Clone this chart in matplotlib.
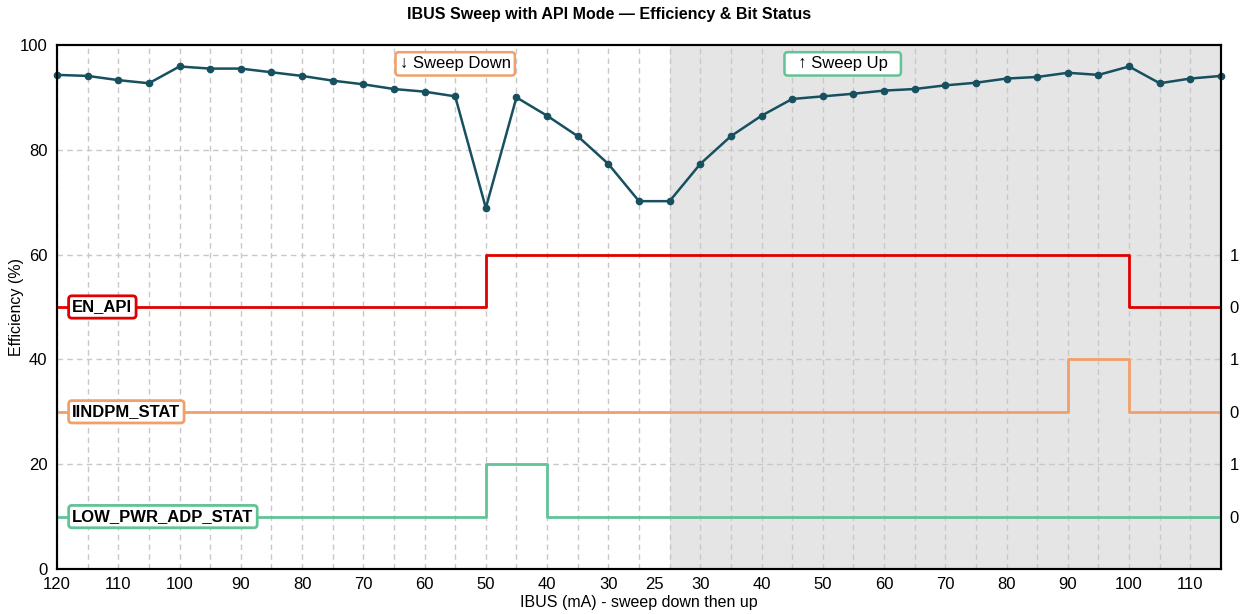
import matplotlib.pyplot as plt
import numpy as np

plt.rcParams['font.family'] = ['Liberation Sans', 'DejaVu Sans']

# IBUS setpoints (mA): sweep down 120 -> 25, then back up 25 -> 115
ibus_down = [120, 115, 110, 105, 100, 95, 90, 85, 80, 75, 70, 65, 60, 55, 50, 45, 40, 35, 30, 25]
ibus_up = [25, 30, 35, 40, 45, 50, 55, 60, 65, 70, 75, 80, 85, 90, 95, 100, 105, 110, 115]
ibus = ibus_down + ibus_up

efficiency = [94.3, 94.1, 93.3, 92.7, 95.9, 95.5, 95.5, 94.8, 94.1, 93.2, 92.5, 91.6, 91.1, 90.2,
              68.9, 90.0, 86.5, 82.6, 77.3, 70.2,
              70.2, 77.3, 82.6, 86.5, 89.7, 90.2, 90.7, 91.3, 91.6, 92.3, 92.8, 93.6, 93.9,
              94.7, 94.3, 95.9, 92.7, 93.6, 94.1]

en_api = [0, 0, 0, 0, 0, 0, 0, 0, 0, 0, 0, 0, 0, 0, 1, 1, 1, 1, 1, 1,
          1, 1, 1, 1, 1, 1, 1, 1, 1, 1, 1, 1, 1, 1, 1, 0, 0, 0, 0]
iindpm_stat = [0, 0, 0, 0, 0, 0, 0, 0, 0, 0, 0, 0, 0, 0, 0, 0, 0, 0, 0, 0,
               0, 0, 0, 0, 0, 0, 0, 0, 0, 0, 0, 0, 0, 1, 1, 0, 0, 0, 0]
low_pwr_adp_stat = [0, 0, 0, 0, 0, 0, 0, 0, 0, 0, 0, 0, 0, 0, 1, 1, 0, 0, 0, 0,
                    0, 0, 0, 0, 0, 0, 0, 0, 0, 0, 0, 0, 0, 0, 0, 0, 0, 0, 0]

bit_names = ['EN_API', 'IINDPM_STAT', 'LOW_PWR_ADP_STAT']
bit_data = [en_api, iindpm_stat, low_pwr_adp_stat]
bit_base = [50, 30, 10]  # where each bit trace sits on the efficiency scale (0 -> base, 1 -> base+10)
bit_colors = ['#e00000', '#f0a06a', '#62c396']

eff_color = '#17505f'

x = np.arange(len(ibus))
n_down = len(ibus_down)

fig = plt.figure(figsize=(12.44, 6.14), dpi=100)
ax = fig.add_axes([0.0458, 0.0733, 0.9357, 0.8534])

# shaded sweep-up region
ax.axvspan(n_down, x[-1], color='#e5e5e5', zorder=0, lw=0)

# grid
for xi in x:
    ax.axvline(xi, color='#c8c8c8', lw=1, ls=(0, (4, 3)), zorder=1)
for yv in [20, 40, 60, 80]:
    ax.axhline(yv, color='#c8c8c8', lw=1, ls=(0, (4, 3)), zorder=1)

ax.plot(x, efficiency, color=eff_color, lw=1.8, marker='o', ms=4.5, zorder=4, clip_on=False)

for name, bits, base, col in zip(bit_names, bit_data, bit_base, bit_colors):
    ax.step(x, np.array(bits) * 10 + base, where='post', color=col, lw=2, zorder=3)
    ax.text(0.5, base, name, fontsize=12, fontweight='bold', ha='left', va='center', zorder=5,
            bbox=dict(boxstyle='round,pad=0.22,rounding_size=0.2', fc='white', ec=col, lw=2))

ax.text(13, 96.4, '↓ Sweep Down', fontsize=12, ha='center', va='center', zorder=5,
        bbox=dict(boxstyle='round,pad=0.25,rounding_size=0.2', fc='white', ec='#f0a06a', lw=1.8))
ax.text(25.65, 96.4, '  ↑ Sweep Up  ', fontsize=12, ha='center', va='center', zorder=5,
        bbox=dict(boxstyle='round,pad=0.25,rounding_size=0.2', fc='white', ec='#62c396', lw=1.8))

ax.set_xlim(0, x[-1])
ax.set_ylim(0, 100)

# x tick labels: every 10 mA, with the turnaround 25 between the two 25 points
tick_pos = []
tick_lab = []
for i, v in enumerate(ibus):
    if v % 10 == 0:
        tick_pos.append(i)
        tick_lab.append(str(v))
tick_pos.append(n_down - 0.5)
tick_lab.append('25')
ax.set_xticks(tick_pos)
ax.set_xticklabels(tick_lab, fontsize=12)
ax.set_yticks([0, 20, 40, 60, 80, 100])
ax.set_yticklabels(['0', '20', '40', '60', '80', '100'], fontsize=12)
ax.tick_params(axis='x', length=0, pad=6)
ax.tick_params(axis='y', length=0, pad=7)

ax2 = ax.twinx()
ax2.set_ylim(0, 100)
ax2.set_yticks([10, 20, 30, 40, 50, 60])
ax2.set_yticklabels(['0', '1', '0', '1', '0', '1'], fontsize=12)
ax2.tick_params(axis='y', length=0, pad=6)

for a in (ax, ax2):
    for s in a.spines.values():
        s.set_color('black')
        s.set_linewidth(1.5)

ax.set_xlabel('IBUS (mA) - sweep down then up', fontsize=11.5, labelpad=2)
ax.set_ylabel('Efficiency (%)', fontsize=11.5)
ax.yaxis.set_label_coords(-0.028, 0.5)
ax.set_title('IBUS Sweep with API Mode — Efficiency & Bit Status', fontsize=11.5, fontweight='bold',
             x=0.4747, pad=19)

fig.savefig('out.png', dpi=100)
